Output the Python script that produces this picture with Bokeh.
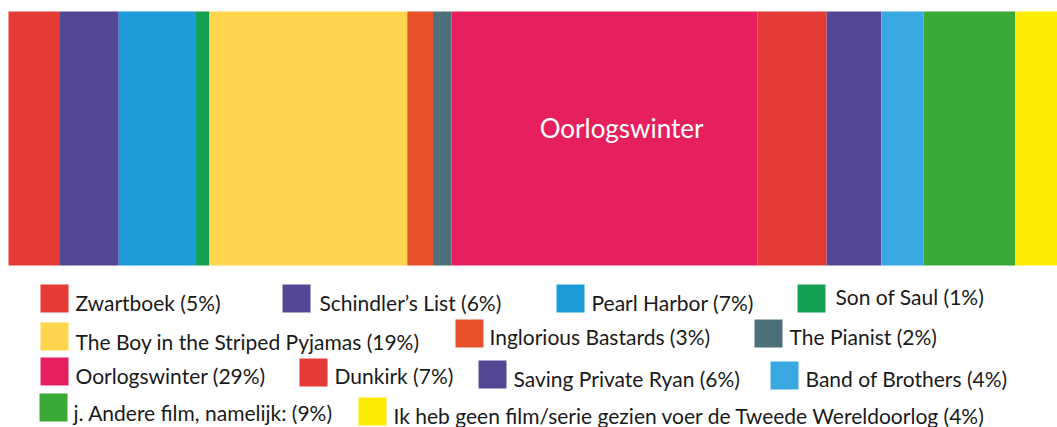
from bokeh.plotting import figure
from bokeh.models import Range1d
from bokeh.core.properties import value
from bokeh.embed import file_html
from bokeh.resources import INLINE

# ---- data ----
films = ["Zwartboek", "Schindler\u2019s List", "Pearl Harbor", "Son of Saul",
         "The Boy in the Striped Pyjamas", "Inglorious Bastards", "The Pianist",
         "Oorlogswinter", "Dunkirk", "Saving Private Ryan", "Band of Brothers",
         "j. Andere film, namelijk:",
         "Ik heb geen film/serie gezien voer de Tweede Wereldoorlog"]
shares = [5.0, 5.7, 7.5, 1.3, 19.2, 2.5, 1.8, 29.7, 6.7, 5.3, 4.1, 8.9, 4.1]
pct_labels = [5, 6, 7, 1, 19, 3, 2, 29, 7, 6, 4, 9, 4]
colors = ["#E53B36", "#524895", "#1B9CD8", "#13A052", "#FED54D", "#E8522A",
          "#4C7079", "#E6205E", "#E53B36", "#524895", "#3AA8E0", "#3BA935",
          "#FCEA00"]
highlight = "Oorlogswinter"

# ---- layout (pixel positions inside the figure) ----
W, H = 1057, 427
bar_left_px = 8
bar_top, bar_bottom = 11, 265
sw = 28
legend_swatch_xy = [(40, 284), (282, 284), (556, 284), (797, 284),
                    (40, 322), (455, 319), (754, 319),
                    (40, 357), (299, 358), (478, 360), (770, 361),
                    (39, 393), (358, 397)]
legend_text_xy = [(75, 311), (319, 311), (591, 311), (835, 305),
                  (75, 350), (489, 345), (789, 345),
                  (75, 384), (334, 384), (513, 387), (805, 387),
                  (73, 421), (393, 424)]
FONT = "Lato"
legend_size = "21px"
legend_shift = -9
label_shift = -11

total = sum(shares)
px_per_unit = (W - bar_left_px) / total
p = figure(width=W, height=H, output_backend="svg", toolbar_location=None,
           x_range=Range1d(-bar_left_px / px_per_unit, total),
           y_range=Range1d(H, 0),
           min_border=0, min_border_left=0, min_border_right=0,
           min_border_top=0, min_border_bottom=0)
p.extra_x_ranges = {"px": Range1d(0, W)}
p.axis.visible = False
p.grid.visible = False
p.outline_line_color = None
p.background_fill_color = "white"

# bars
lefts, rights = [], []
acc = 0.0
for s in shares:
    lefts.append(acc)
    acc += s
    rights.append(acc)
p.quad(left=lefts, right=rights, top=[bar_top] * len(shares),
       bottom=[bar_bottom] * len(shares), fill_color=colors, line_color=None)

# label inside highlighted bar
i = films.index(highlight)
p.text(x=[(lefts[i] + rights[i]) / 2], y=[(bar_top + bar_bottom) / 2],
       text=[highlight], text_color="white", text_font=value(FONT),
       text_font_size="26px", text_align="center", text_baseline="alphabetic",
       x_offset=17, y_offset=label_shift)

# legend
p.quad(left=[x for x, y in legend_swatch_xy],
       right=[x + sw for x, y in legend_swatch_xy],
       top=[y for x, y in legend_swatch_xy],
       bottom=[y + sw for x, y in legend_swatch_xy],
       fill_color=colors, line_color=None, x_range_name="px")
p.text(x=[x for x, y in legend_text_xy], y=[y for x, y in legend_text_xy],
       text=[f"{f} ({v}%)" for f, v in zip(films, pct_labels)],
       text_color="#1A1A1A", text_font=value(FONT), text_font_size=legend_size,
       text_align="left", text_baseline="alphabetic", x_range_name="px",
       y_offset=legend_shift)

open("out.html", "w").write(file_html(p, INLINE))
